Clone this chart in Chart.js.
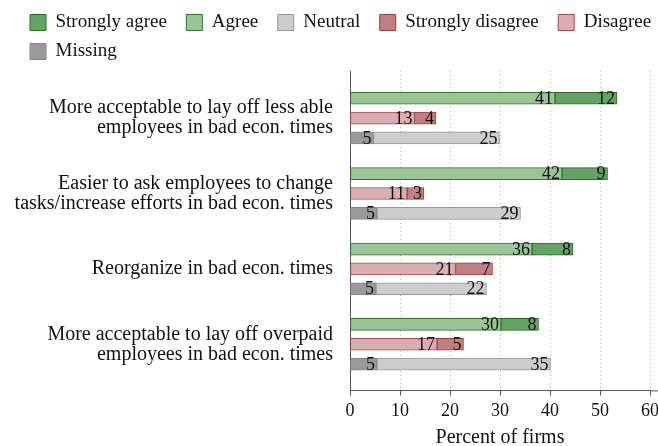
<!DOCTYPE html>
<html lang="en">
<head>
  <meta charset="UTF-8" />
  <title>Firm attitudes in bad economic times</title>
  <script src="https://cdn.jsdelivr.net/npm/chart.js"></script>
  <style>
    body { margin: 0; background: #fff; }
    .chart-box { position: relative; width: 658px; height: 446px; }
  </style>
</head>
<body>
  <div class="chart-box"><canvas id="attitudeChart"></canvas></div>

  <script>
    // Survey statements (one per group, top to bottom)
    const questions = [
      ['More acceptable to lay off less able', 'employees in bad econ. times'],
      ['Easier to ask employees to change', 'tasks/increase efforts in bad econ. times'],
      ['Reorganize in bad econ. times'],
      ['More acceptable to lay off overpaid', 'employees in bad econ. times']
    ];

    // Percent of firms per answer
    const agree            = [41.0, 42.4, 36.4, 30.2];
    const stronglyAgree    = [12.4,  9.1,  8.2,  7.5];
    const disagree         = [12.9, 11.4, 21.1, 17.4];
    const stronglyDisagree = [ 4.3,  3.4,  7.4,  5.3];
    const missing          = [ 4.7,  5.4,  5.2,  5.4];
    const neutral          = [25.2, 28.7, 22.1, 34.7];

    const xTicks = [0, 10, 20, 30, 40, 50, 60];
    const legendOrder = ['Strongly agree', 'Agree', 'Neutral', 'Strongly disagree', 'Disagree', 'Missing'];

    // three bars per statement, a wider gap between statements
    const GROUP_STEP = 3.8;
    const rowPos = (g, r) => g * GROUP_STEP + r;

    const FONT = '"Liberation Serif", "Times New Roman", serif';
    Chart.defaults.font.family = FONT;
    Chart.defaults.color = '#111';

    function series(label, values, row, fill, border) {
      return {
        label: label,
        data: values.map((v, g) => ({ x: v, y: rowPos(g, row) })),
        backgroundColor: fill,
        borderColor: border,
        borderWidth: 1,
        borderSkipped: false,
        barThickness: 12
      };
    }

    // value printed at the inner right end of each segment
    const barLabels = {
      id: 'barLabels',
      afterDatasetsDraw(chart) {
        const ctx = chart.ctx;
        ctx.save();
        ctx.font = '18px ' + FONT;
        ctx.fillStyle = '#111';
        ctx.textAlign = 'right';
        ctx.textBaseline = 'middle';
        chart.data.datasets.forEach((ds, i) => {
          chart.getDatasetMeta(i).data.forEach((bar, j) => {
            ctx.fillText(Math.round(ds.data[j].x), bar.x - 2, bar.y + 1);
          });
        });
        ctx.restore();
      }
    };

    // x axis line runs on to the right edge
    const axisTail = {
      id: 'axisTail',
      afterDraw(chart) {
        const { ctx, chartArea } = chart;
        ctx.save();
        ctx.strokeStyle = '#555';
        ctx.lineWidth = 1;
        ctx.beginPath();
        ctx.moveTo(chartArea.right, chartArea.bottom + 0.5);
        ctx.lineTo(chart.width, chartArea.bottom + 0.5);
        ctx.stroke();
        ctx.restore();
      }
    };

    // legend starts a bit in from the left edge, the long y labels do not
    const legendIndent = {
      id: 'legendIndent',
      afterLayout(chart) { chart.legend.left += 20; }
    };

    const baseLabels = Chart.defaults.plugins.legend.labels.generateLabels;

    new Chart(document.getElementById('attitudeChart'), {
      type: 'bar',
      data: {
        datasets: [
          series('Agree', agree, 0, '#9cc498', '#2a7a2a'),
          series('Strongly agree', stronglyAgree, 0, '#65a265', '#1f6f1f'),
          series('Disagree', disagree, 1, '#d7afb3', '#a84a54'),
          series('Strongly disagree', stronglyDisagree, 1, '#bf8084', '#9b3a45'),
          series('Missing', missing, 2, '#9a9a9a', '#858585'),
          series('Neutral', neutral, 2, '#cdcdcd', '#979797')
        ]
      },
      options: {
        indexAxis: 'y',
        responsive: true,
        maintainAspectRatio: false,
        animation: false,
        layout: { padding: { left: 0, right: -40, top: 3, bottom: -4 } },
        scales: {
          x: {
            type: 'linear',
            stacked: true,
            min: 0,
            max: 60,
            afterBuildTicks: s => { s.ticks = xTicks.map(v => ({ value: v })); },
            afterFit: s => { s.paddingRight = 8; },
            ticks: { padding: 5, maxRotation: 0, font: { size: 18 } },
            grid: { color: '#b3b3b3', tickColor: '#555', tickLength: 5, tickBorderDash: [] },
            border: { display: true, color: '#555', dash: [1, 3] },
            title: { display: true, text: 'Percent of firms', font: { size: 20 }, padding: { top: -1, bottom: 0 } }
          },
          y: {
            type: 'linear',
            stacked: true,
            offset: false,
            reverse: true,
            min: -1.375,
            max: 14.725,
            afterBuildTicks: s => { s.ticks = questions.map((q, g) => ({ value: rowPos(g, 1) })); },
            afterFit: s => { s.width = 350; },
            grid: { display: false, drawTicks: false },
            border: { display: true, color: '#555' },
            ticks: {
              autoSkip: false,
              padding: 17,
              font: { size: 20, lineHeight: 1.0 },
              callback: (v, i) => questions[i]
            }
          }
        },
        plugins: {
          legend: {
            position: 'top',
            align: 'start',
            labels: {
              boxWidth: 16,
              boxHeight: 16,
              padding: 10,
              font: { size: 19 },
              generateLabels: chart => baseLabels(chart).map(l => Object.assign(l, { text: l.text + '\u2002' })),
              sort: (a, b) => legendOrder.indexOf(a.text.trim()) - legendOrder.indexOf(b.text.trim())
            }
          },
          tooltip: { enabled: false }
        }
      },
      plugins: [barLabels, axisTail, legendIndent]
    });
  </script>
</body>
</html>
